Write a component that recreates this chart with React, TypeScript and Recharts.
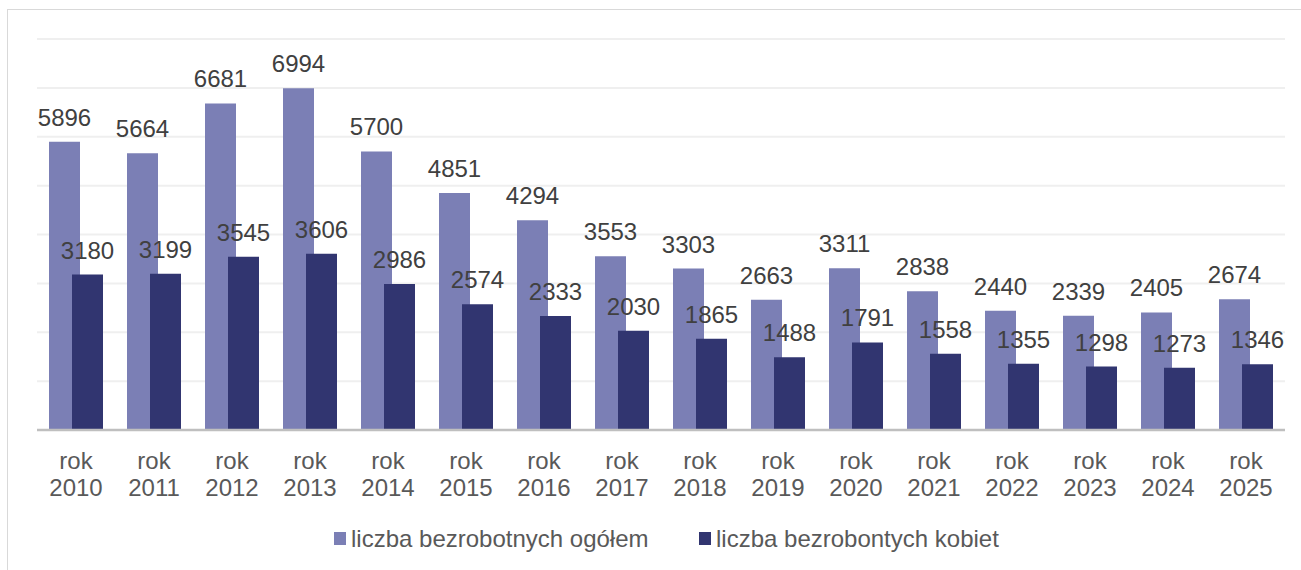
import React from 'react';
import { BarChart, Bar, XAxis, YAxis, CartesianGrid, LabelList, Legend } from 'recharts';

const categories = [
  'rok 2010', 'rok 2011', 'rok 2012', 'rok 2013', 'rok 2014', 'rok 2015', 'rok 2016', 'rok 2017',
  'rok 2018', 'rok 2019', 'rok 2020', 'rok 2021', 'rok 2022', 'rok 2023', 'rok 2024', 'rok 2025',
];
const totalValues = [5896, 5664, 6681, 6994, 5700, 4851, 4294, 3553, 3303, 2663, 3311, 2838, 2440, 2339, 2405, 2674];
const womenValues = [3180, 3199, 3545, 3606, 2986, 2574, 2333, 2030, 1865, 1488, 1791, 1558, 1355, 1298, 1273, 1346];
const yTicks = [0, 1000, 2000, 3000, 4000, 5000, 6000, 7000, 8000];
const seriesNames = ['liczba bezrobotnych ogółem', 'liczba bezrobontych kobiet'];

const COLORS = ['#7b7fb5', '#313570'];
const FONT = '"Liberation Sans", Arial, sans-serif';

const data = categories.map((c, i) => ({ category: c, total: totalValues[i], women: womenValues[i] }));

const Tick = (props: any) => {
  const { x, y, payload } = props;
  const parts = String(payload.value).split(' ');
  return (
    <text x={x} y={y} textAnchor="middle" fill="#595959" fontSize={24} fontFamily={FONT}>
      <tspan x={x} dy={39}>{parts[0]}</tspan>
      <tspan x={x} dy={27}>{parts[1]}</tspan>
    </text>
  );
};

const LegendContent = () => (
  <svg width={1301} height={40} style={{ display: 'block' }}>
    <rect x={334} y={12} width={12} height={13} fill={COLORS[0]} />
    <text x={351} y={27} fill="#595959" fontSize={24} fontFamily={FONT}>{seriesNames[0]}</text>
    <rect x={699} y={12} width={12} height={13} fill={COLORS[1]} />
    <text x={716} y={27} fill="#595959" fontSize={24} fontFamily={FONT}>{seriesNames[1]}</text>
  </svg>
);

export default function App() {
  return (
    <div style={{ position: 'absolute', left: 0, top: 0, width: 1301, height: 570, background: '#fff', overflow: 'hidden' }}>
      <div style={{ position: 'absolute', left: 7, top: 9, width: 1310, height: 600, border: '1.5px solid #d9d9d9', boxSizing: 'border-box' }} />
      <div style={{ position: 'absolute', left: 0, top: 0 }}>
        <BarChart
          width={1301}
          height={570}
          data={data}
          margin={{ top: 39, right: 16, left: 37, bottom: 0 }}
          barSize={31}
          barGap={-8}
        >
          <CartesianGrid vertical={false} stroke="#efefef" strokeWidth={2} />
          <YAxis hide domain={[0, 8000]} ticks={yTicks} />
          <XAxis
            dataKey="category"
            interval={0}
            tickLine={false}
            tickSize={0}
            tickMargin={0}
            height={140}
            tick={<Tick />}
            axisLine={{ stroke: '#bfbfbf', strokeWidth: 2.5 }}
          />
          <Legend
            verticalAlign="middle"
            align="center"
            layout="horizontal"
            wrapperStyle={{ top: 520, left: 0, width: 1301, height: 40 }}
            content={<LegendContent />}
          />
          <Bar dataKey="total" name={seriesNames[0]} fill={COLORS[0]} isAnimationActive={false}>
            <LabelList dataKey="total" position="top" offset={16} fill="#404040" fontSize={24} fontFamily={FONT} />
          </Bar>
          <Bar dataKey="women" name={seriesNames[1]} fill={COLORS[1]} isAnimationActive={false}>
            <LabelList dataKey="women" position="top" offset={16} fill="#404040" fontSize={24} fontFamily={FONT} />
          </Bar>
        </BarChart>
      </div>
    </div>
  );
}
